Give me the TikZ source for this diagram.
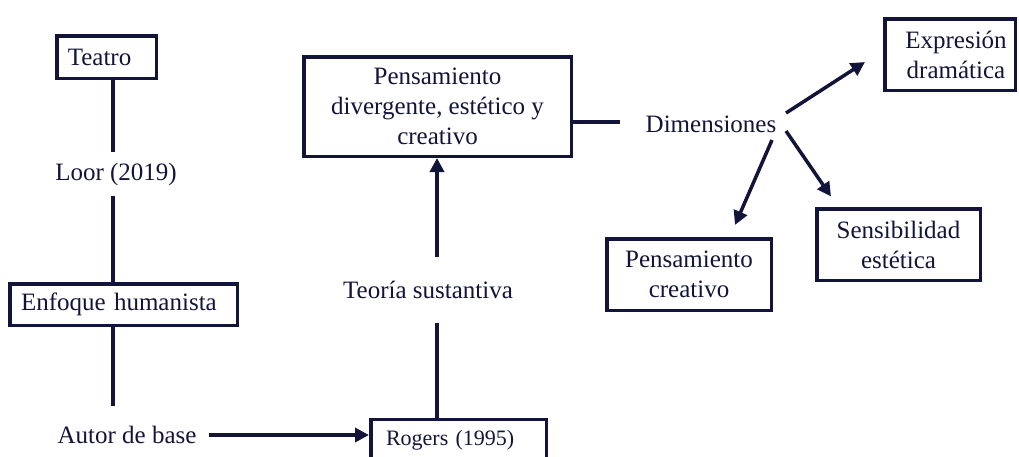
\documentclass[tikz,border=0pt]{standalone}
\usepackage{fontspec}
\setmainfont{LiberationSerif}[Extension=.ttf, UprightFont=*-Regular, BoldFont=*-Bold]
\usetikzlibrary{arrows.meta,calc}
\definecolor{navy}{RGB}{18,20,58}
\begin{document}
\begin{tikzpicture}[x=1pt,y=-1pt,
  every node/.style={text=navy, font=\rmfamily\fontsize{25}{30}\selectfont},
  box/.style={draw=navy, line width=3.5pt, inner sep=0pt, align=center},
  lbox/.style={box, align=left},
  lbl/.style={inner sep=0pt},
  ln/.style={draw=navy, line width=3.5pt},
  arr/.style={ln, -{Triangle[length=14pt,width=14pt]}}]
\useasboundingbox (0,0) rectangle (1019,456);

% boxes
\node[lbox, minimum height=42.5pt, text width=77.5pt, inner xsep=11pt] (teatro) at (106.5,57) {Teatro};
\node[lbox, minimum height=41.5pt, text width=205pt, inner xsep=11.25pt] (enfoque) at (123.5,304.5) {Enfoque humanista};
\node[lbox, minimum height=42pt, text width=145pt, inner xsep=15.25pt, font=\rmfamily\fontsize{22}{26}\selectfont] (rogers) at (458.5,440.5) {Rogers (1995)};
\node[box, minimum width=267.5pt, minimum height=99.5pt] (pdiv) at (437.5,106.5) {Pensamiento\\divergente, estético y\\creativo};
\node[box, minimum width=130.5pt, minimum height=71.5pt,
      label={[lbl, align=center, xshift=6pt]center:{Expresión\\dramática}}] (expr) at (950,54.5) {};
\node[box, minimum width=164.5pt, minimum height=71.5pt] (pcre) at (689,274.5) {Pensamiento\\creativo};
\node[box, minimum width=163.5pt, minimum height=71.5pt] (sens) at (898.5,244.5) {Sensibilidad\\estética};

% plain labels
\node[lbl, inner ysep=10pt] (loor) at (116,174) {Loor (2019)};
\node[lbl, inner ysep=20pt, inner xsep=12pt] (autor) at (127,435) {Autor de base};
\node[lbl, inner ysep=24pt] (teoria) at (428,290) {Teoría sustantiva};
\node[lbl, inner xsep=26pt, inner ysep=4pt] (dim) at (711,124) {Dimensiones};

\coordinate (colL) at (113,0);
\coordinate (colM) at (437,0);

% connectors
\draw[ln] (teatro.south -| colL) -- (loor.north -| colL);
\draw[ln] (loor.south -| colL) -- (enfoque.north -| colL);
\draw[ln] (enfoque.south -| colL) -- (autor.north -| colL);
\draw[arr] (autor.east) -- (autor.east -| rogers.west);
\draw[ln] (rogers.north -| colM) -- (teoria.south -| colM);
\draw[arr] (teoria.north -| colM) -- (pdiv.south -| colM);
\draw[ln] (pdiv.east |- 0,122) -- (dim.west |- 0,122);
\draw[arr] ([shift={(75,-11)}]dim.center) -- ([shift={(-18,7.5)}]expr.west);
\draw[arr] ([shift={(61,16)}]dim.center) -- ([shift={(46,-12)}]pcre.north);
\draw[arr] ([shift={(75,7)}]dim.center) -- ([shift={(-67.5,-10.5)}]sens.north);
\end{tikzpicture}
\end{document}
